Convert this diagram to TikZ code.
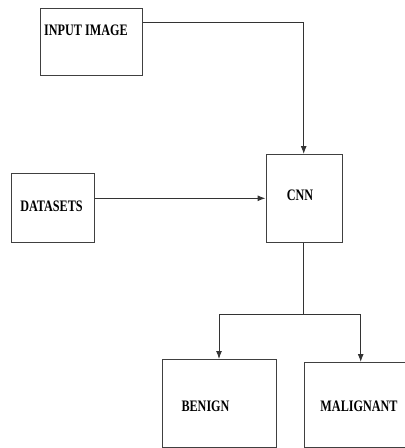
\documentclass[tikz,border=0pt]{standalone}
\usepackage{fontspec}
\newfontfamily\lblfont[FakeStretch=0.76]{Liberation Serif}
\usetikzlibrary{arrows.meta}
\begin{document}
\begin{tikzpicture}[x=1pt,y=-1pt,
  box/.style={draw=black!75,line width=1pt,rectangle,inner sep=0pt,anchor=north west},
  lbl/.style={font=\lblfont\bfseries\fontsize{16}{18}\selectfont,inner sep=0pt,text=black},
  conn/.style={draw=black!80,line width=1pt},
  arr/.style={conn,-{Latex[length=8pt,width=6pt]}}]
\useasboundingbox (0,0) rectangle (405,448);
\node[box,minimum width=102pt,minimum height=67.5pt] (inp) at (39.5,7.5) {};
\node[box,minimum width=82.5pt,minimum height=69pt] (dat) at (11,172.5) {};
\node[box,minimum width=76pt,minimum height=88pt] (cnn) at (265.5,154) {};
\node[box,minimum width=113.5pt,minimum height=88pt] (ben) at (162.3,359) {};
\node[box,minimum width=160pt,minimum height=85pt] (mal) at (304,362) {};
\node[lbl,anchor=west] (tinp) at (44,30.5) {INPUT IMAGE};
\node[lbl] (tdat) at (51.5,206) {DATASETS};
\node[lbl] (tcnn) at (300,195) {CNN};
\node[lbl] (tben) at (205.5,406) {BENIGN};
\node[lbl] (tmal) at (359,406) {MALIGNANT};
\coordinate (c1) at (303.7,22.7);
\coordinate (split) at (303.7,314.5);
\coordinate (bl) at (219,314.5);
\coordinate (br) at (360.7,314.5);
\draw[arr] (inp.east |- c1) -- (c1) -- (c1 |- cnn.north);
\draw[arr] (dat.east |- 0,198.3) -- (cnn.west |- 0,198.3);
\draw[conn] (cnn.south -| split) -- (split);
\draw[conn] (bl) -- (br);
\draw[arr] (bl) -- (bl |- ben.north);
\draw[arr] (br) -- (br |- mal.north);
\end{tikzpicture}
\end{document}
